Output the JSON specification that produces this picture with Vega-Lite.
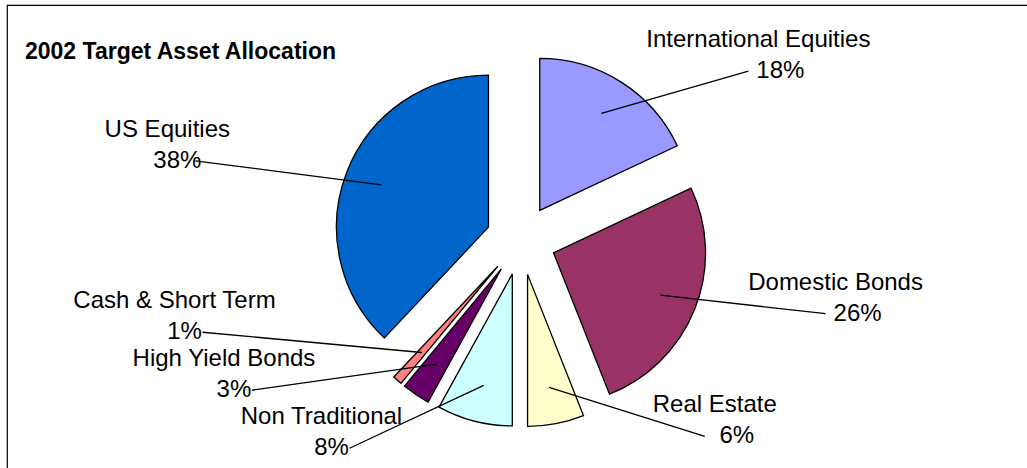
{
  "$schema": "https://vega.github.io/schema/vega-lite/v6.json",
  "width": 1030,
  "height": 470,
  "autosize": {"type": "none"},
  "padding": {"left": 7, "top": 5, "right": 0, "bottom": 0},
  "background": "white",
  "config": {"view": {"stroke": "#000", "strokeWidth": 1.2}, "font": "Liberation Sans"},
  "title": {"text": "2002 Target Asset Allocation", "anchor": "start", "frame": "group", "fontSize": 23, "fontWeight": "bold", "font": "Liberation Sans", "color": "#000", "baseline": "alphabetic", "offset": 0, "dx": 18, "dy": 77},
  "data": {"values": [
    {"asset": "International Equities", "share": 0.18},
    {"asset": "Domestic Bonds", "share": 0.26},
    {"asset": "Real Estate", "share": 0.06},
    {"asset": "Non Traditional", "share": 0.08},
    {"asset": "High Yield Bonds", "share": 0.03},
    {"asset": "Cash & Short Term", "share": 0.01},
    {"asset": "US Equities", "share": 0.38}
  ]},
  "transform": [
    {"window": [{"op": "sum", "field": "share", "as": "t1"}], "frame": [null, 0]},
    {"calculate": "datum.t1 - datum.share", "as": "t0"},
    {"calculate": "PI * (datum.t0 + datum.t1)", "as": "a"},
    {"calculate": "35 * sin(datum.a)", "as": "ex"},
    {"calculate": "-35 * cos(datum.a)", "as": "ey"},
    {"calculate": "datum.ex + 115 * sin(datum.a)", "as": "ix"},
    {"calculate": "datum.ey - 115 * cos(datum.a)", "as": "iy"},
    {"calculate": "sin(datum.a) >= 0 ? 1 : -1", "as": "side"},
    {"calculate": "-(datum.side > 0 ? 200 : 215) * cos(datum.a)", "as": "y0"},
    {"window": [{"op": "row_number", "as": "rn"}], "groupby": ["side"], "sort": [{"field": "y0", "order": "descending"}]},
    {"calculate": "datum.y0 + 58 * (datum.rn - 1)", "as": "z"},
    {"window": [{"op": "min", "field": "z", "as": "zmin"}], "groupby": ["side"], "sort": [{"field": "y0", "order": "descending"}], "frame": [null, 0]},
    {"calculate": "datum.zmin - 58 * (datum.rn - 1)", "as": "ly"},
    {"calculate": "datum.side * (datum.side > 0 ? 320 : 345) * sqrt(max(0, 1 - pow(datum.ly / 240, 2)))", "as": "lx"},
    {"calculate": "datum.lx + (datum.side > 0 ? 32 : -18)", "as": "tx"},
    {"calculate": "datum.lx + (datum.side > 0 ? 10 : -28)", "as": "nx"},
    {"calculate": "datum.ly - 31", "as": "ny"}
  ],
  "layer": [
    {
      "mark": {"type": "arc", "outerRadius": 152, "stroke": "#000", "strokeWidth": 1.3},
      "encoding": {
        "x": {"field": "ex", "type": "quantitative", "scale": {"domain": [-514, 516], "zero": false, "nice": false}, "axis": null},
        "y": {"field": "ey", "type": "quantitative", "scale": {"domain": [-235, 235], "reverse": true, "zero": false, "nice": false}, "axis": null},
        "theta": {"field": "t0", "type": "quantitative", "stack": null, "scale": {"domain": [0, 1], "range": [0, 6.283185307]}},
        "theta2": {"field": "t1"},
        "color": {"field": "asset", "type": "nominal", "legend": null,
          "scale": {"domain": ["International Equities", "Domestic Bonds", "Real Estate", "Non Traditional", "High Yield Bonds", "Cash & Short Term", "US Equities"],
                    "range": ["#9999FF", "#993366", "#FFFFCC", "#CCFFFF", "#660066", "#FF8080", "#0066CC"]}}
      }
    },
    {
      "mark": {"type": "rule", "color": "#000", "strokeWidth": 1.3},
      "encoding": {
        "x": {"field": "ix", "type": "quantitative", "scale": {"domain": [-514, 516], "zero": false, "nice": false}, "axis": null},
        "y": {"field": "iy", "type": "quantitative", "scale": {"domain": [-235, 235], "reverse": true, "zero": false, "nice": false}, "axis": null},
        "x2": {"field": "lx"},
        "y2": {"field": "ly"}
      }
    },
    {
      "mark": {"type": "text", "fontSize": 24, "font": "Liberation Sans", "color": "#000", "align": "center", "baseline": "middle"},
      "encoding": {
        "x": {"field": "tx", "type": "quantitative", "scale": {"domain": [-514, 516], "zero": false, "nice": false}, "axis": null},
        "y": {"field": "ly", "type": "quantitative", "scale": {"domain": [-235, 235], "reverse": true, "zero": false, "nice": false}, "axis": null},
        "text": {"field": "share", "type": "quantitative", "format": ".0%"}
      }
    },
    {
      "mark": {"type": "text", "fontSize": 24, "font": "Liberation Sans", "color": "#000", "align": "center", "baseline": "middle"},
      "encoding": {
        "x": {"field": "nx", "type": "quantitative", "scale": {"domain": [-514, 516], "zero": false, "nice": false}, "axis": null},
        "y": {"field": "ny", "type": "quantitative", "scale": {"domain": [-235, 235], "reverse": true, "zero": false, "nice": false}, "axis": null},
        "text": {"field": "asset", "type": "nominal"}
      }
    }
  ]
}
